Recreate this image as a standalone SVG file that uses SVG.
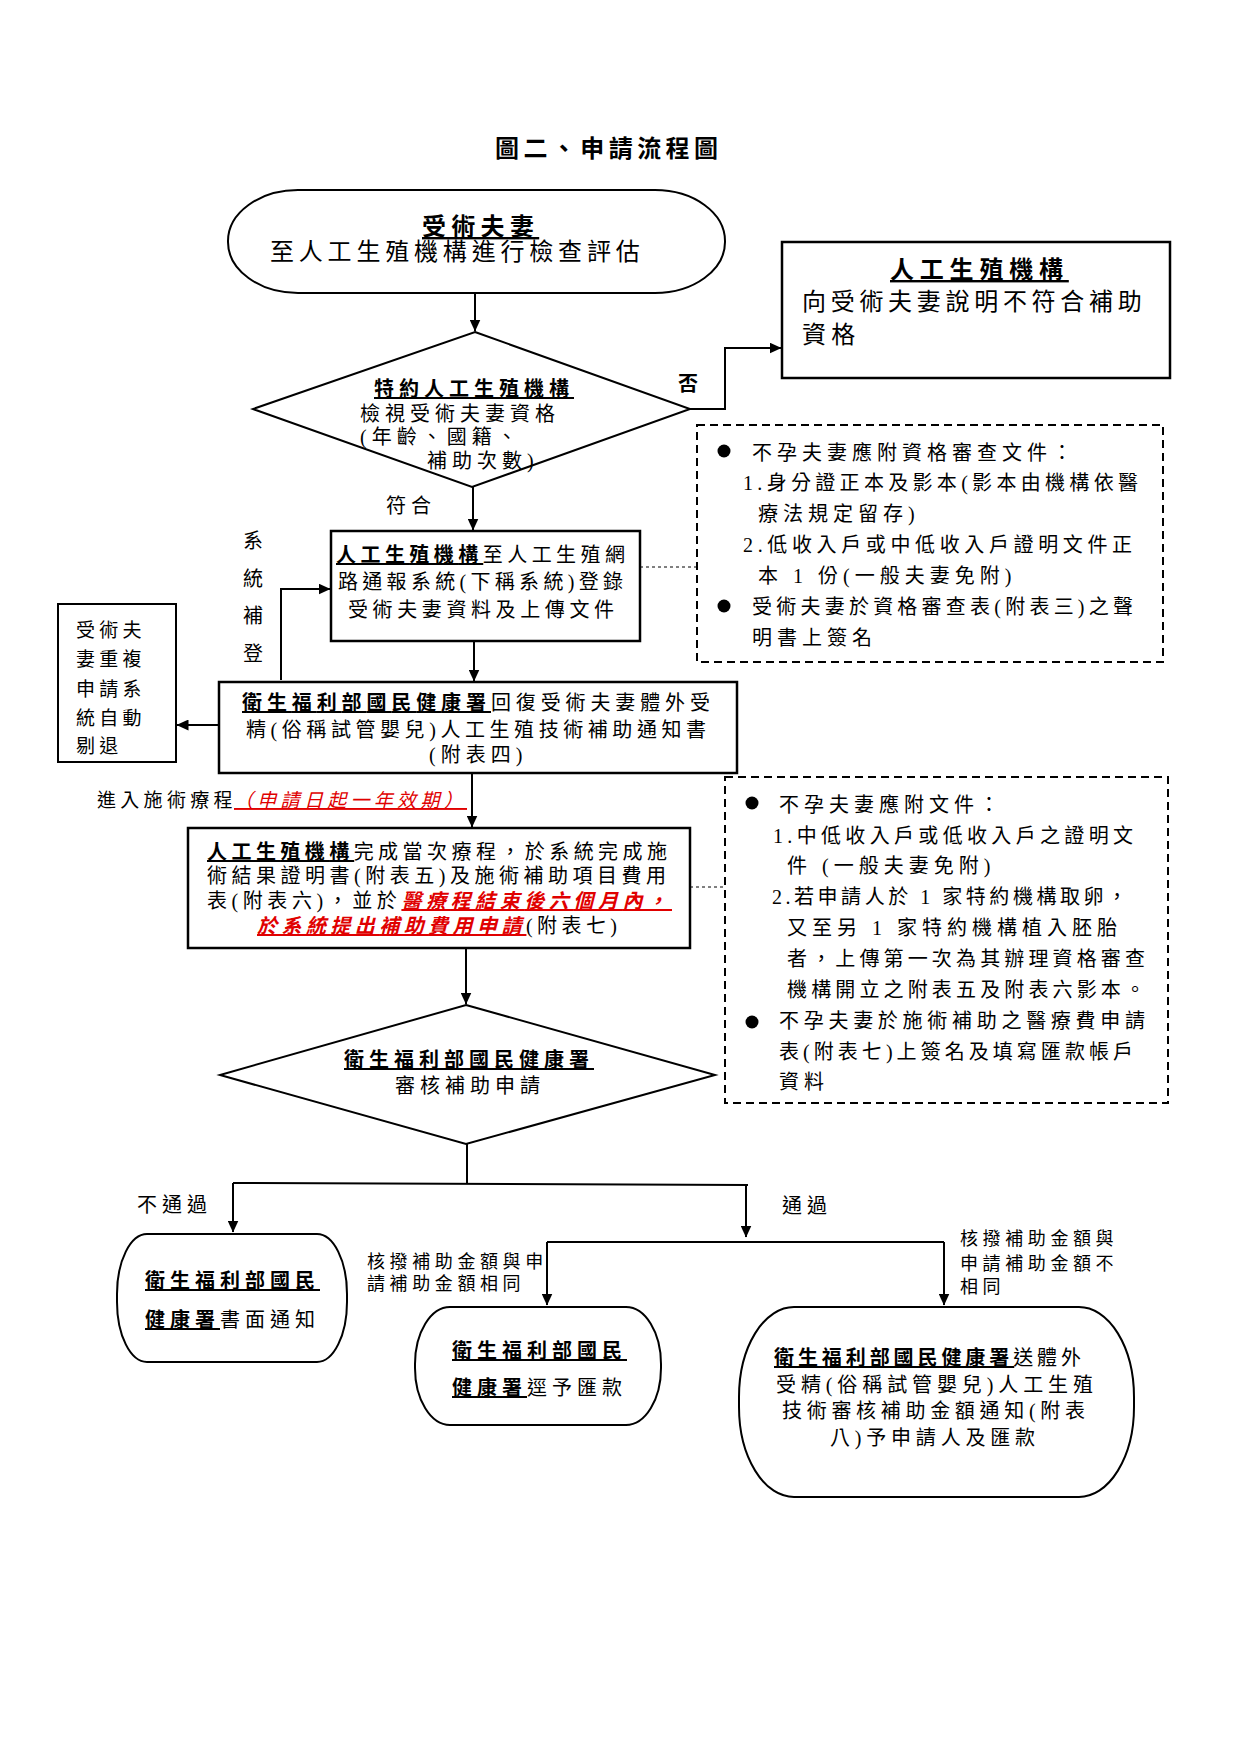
<svg xmlns="http://www.w3.org/2000/svg" width="1241" height="1755" viewBox="0 0 1241 1755">
<defs>
<marker id="ah" viewBox="0 0 12 11" markerWidth="12" markerHeight="11" refX="11.5" refY="5.5" orient="auto" markerUnits="userSpaceOnUse"><path d="M0,0 L12,5.5 L0,11 z" fill="#000"/></marker>
</defs>
<style>
text { font-family: 'Liberation Serif','Noto Sans CJK TC',serif; fill:#000; }
.t20 { font-size:20px; letter-spacing:5px; }
.t24 { font-size:24px; letter-spacing:5.3px; }
.t19 { font-size:19px; letter-spacing:4.3px; }
.t18 { font-size:18px; letter-spacing:4.6px; }
.b { font-weight:700; text-decoration:underline; }
.bold { font-weight:700; }
.red { fill:#e00000; font-style:italic; text-decoration:underline; }
.shape { fill:#fff; stroke:#000; stroke-width:2; }
.box { fill:#fff; stroke:#000; stroke-width:2.5; }
.dash { fill:none; stroke:#000; stroke-width:2; stroke-dasharray:8 5; }
.conn { fill:none; stroke:#000; stroke-width:2; }
.arr { marker-end:url(#ah); }
.dot { fill:none; stroke:#000; stroke-width:1; stroke-dasharray:3 3; }
</style>
<rect width="1241" height="1755" fill="#fff"/>

<text id="title" class="bold" x="495" y="157" font-size="24" letter-spacing="5" textLength="228" lengthAdjust="spacing">圖二、申請流程圖</text>

<g id="connectors">
<path class="conn arr" d="M475,293 L475,331"/>
<path class="conn arr" d="M690,409 L725,409 L725,348 L781,348"/>
<path class="conn arr" d="M473,487 L473,530"/>
<path class="conn arr" d="M474,641 L474,681"/>
<path class="conn arr" d="M281,680 L281,589 L330,589"/>
<path class="conn arr" d="M219,725 L177,725"/>
<path class="conn arr" d="M472,773 L472,827"/>
<path class="conn arr" d="M466,948 L466,1004"/>
<path class="conn" d="M467,1144 L467,1183"/>
<path class="conn" d="M233,1183 L748,1185"/>
<path class="conn arr" d="M233,1183 L233,1232"/>
<path class="conn arr" d="M746,1186 L746,1237"/>
<path class="conn" d="M547,1242 L944,1242"/>
<path class="conn arr" d="M547,1242 L547,1305"/>
<path class="conn arr" d="M944,1242 L944,1305"/>
<path class="dot" d="M640,567 L697,567"/>
<path class="dot" d="M690,887 L725,887"/>
<text class="t20 bold" x="678" y="391">否</text>
<text class="t20" x="386" y="513">符合</text>
<text class="t20" x="243" y="548">系</text>
<text class="t20" x="243" y="586">統</text>
<text class="t20" x="243" y="623">補</text>
<text class="t20" x="243" y="661">登</text>
<text class="t19" x="97" y="807">進入施術療程<tspan class="red" x="234">（申請日起一年效期）</tspan></text>
<text class="t20" x="137" y="1212">不通過</text>
<text class="t20" x="782" y="1213">通過</text>
<text class="t18" x="367" y="1268">核撥補助金額與申</text>
<text class="t18" x="367" y="1290">請補助金額相同</text>
<text class="t18" x="960" y="1245">核撥補助金額與</text>
<text class="t18" x="960" y="1270">申請補助金額不</text>
<text class="t18" x="960" y="1293">相同</text>
</g>

<g id="start">
<rect class="shape" x="228" y="190" width="497" height="103" rx="70" ry="51"/>
<text class="t24 b" x="422" y="235">受術夫妻</text>
<text class="t24" x="270" y="260" textLength="375" lengthAdjust="spacing">至人工生殖機構進行檢查評估</text>
</g>

<g id="check">
<polygon class="shape" points="475,332 690,409 472,487 253,409"/>
<text class="t20 b" x="374" y="396">特約人工生殖機構</text>
<text class="t20" x="360" y="421">檢視受術夫妻資格</text>
<text class="t20" x="360" y="444" letter-spacing="6">(年齡、國籍、</text>
<text class="t20" x="427" y="468">補助次數)</text>
</g>

<g id="reject">
<rect class="box" x="782" y="242" width="388" height="136"/>
<text class="b" x="890" y="278" font-size="24" letter-spacing="5.8">人工生殖機構</text>
<text class="t24" x="802" y="310" textLength="345" lengthAdjust="spacing">向受術夫妻說明不符合補助</text>
<text class="t24" x="802" y="343">資格</text>
</g>

<g id="docs1">
<rect class="dash" x="697" y="425" width="466" height="237"/>
<circle cx="724" cy="451" r="6.5"/>
<circle cx="724" cy="606" r="6.5"/>
<text class="t20" x="752" y="460">不孕夫妻應附資格審查文件：</text>
<text class="t20" x="743" y="490" textLength="400" lengthAdjust="spacing">1.身分證正本及影本(影本由機構依醫</text>
<text class="t20" x="758" y="521">療法規定留存)</text>
<text class="t20" x="743" y="552" textLength="394" lengthAdjust="spacing">2.低收入戶或中低收入戶證明文件正</text>
<text class="t20" x="758" y="583">本 1 份(一般夫妻免附)</text>
<text class="t20" x="752" y="614" textLength="386" lengthAdjust="spacing">受術夫妻於資格審查表(附表三)之聲</text>
<text class="t20" x="752" y="645">明書上簽名</text>
</g>

<g id="register">
<rect class="box" x="331" y="531" width="309" height="110"/>
<text class="t20" x="336" y="562" textLength="294" lengthAdjust="spacing"><tspan class="b">人工生殖機構</tspan>至人工生殖網</text>
<text class="t20" x="338" y="589" textLength="290" lengthAdjust="spacing">路通報系統(下稱系統)登錄</text>
<text class="t20" x="348" y="617" textLength="271" lengthAdjust="spacing">受術夫妻資料及上傳文件</text>
</g>

<g id="notice">
<rect class="box" x="219" y="682" width="518" height="91"/>
<text class="t20" x="242" y="710" textLength="473" lengthAdjust="spacing"><tspan class="b">衛生福利部國民健康署</tspan>回復受術夫妻體外受</text>
<text class="t20" x="246" y="737" textLength="465" lengthAdjust="spacing">精(俗稱試管嬰兒)人工生殖技術補助通知書</text>
<text class="t20" x="429" y="762">(附表四)</text>
</g>

<g id="duplicate">
<rect class="shape" x="58" y="604" width="118" height="158"/>
<text class="t19" x="76" y="637">受術夫</text>
<text class="t19" x="76" y="666">妻重複</text>
<text class="t19" x="76" y="696">申請系</text>
<text class="t19" x="76" y="725">統自動</text>
<text class="t19" x="76" y="753">剔退</text>
</g>

<g id="treatment">
<rect class="box" x="188" y="828" width="502" height="120"/>
<text class="t20" x="207" y="859" textLength="465" lengthAdjust="spacing"><tspan class="b">人工生殖機構</tspan>完成當次療程，於系統完成施</text>
<text class="t20" x="207" y="883" textLength="464" lengthAdjust="spacing">術結果證明書(附表五)及施術補助項目費用</text>
<text class="t20" x="207" y="908" textLength="465" lengthAdjust="spacing">表(附表六)，並於<tspan class="red bold">醫療程結束後六個月內，</tspan></text>
<text class="t20" x="257" y="933" textLength="365" lengthAdjust="spacing"><tspan class="red bold">於系統提出補助費用申請</tspan>(附表七)</text>
</g>

<g id="docs2">
<rect class="dash" x="725" y="777" width="443" height="326"/>
<circle cx="752" cy="803" r="6.5"/>
<circle cx="752" cy="1022" r="6.5"/>
<text class="t20" x="779" y="812">不孕夫妻應附文件：</text>
<text class="t20" x="773" y="843" textLength="365" lengthAdjust="spacing">1.中低收入戶或低收入戶之證明文</text>
<text class="t20" x="787" y="873">件 (一般夫妻免附)</text>
<text class="t20" x="772" y="904" textLength="360" lengthAdjust="spacing">2.若申請人於 1 家特約機構取卵，</text>
<text class="t20" x="787" y="935">又至另 1 家特約機構植入胚胎</text>
<text class="t20" x="787" y="966" textLength="363" lengthAdjust="spacing">者，上傳第一次為其辦理資格審查</text>
<text class="t20" x="787" y="997" textLength="363" lengthAdjust="spacing">機構開立之附表五及附表六影本。</text>
<text class="t20" x="779" y="1028" textLength="371" lengthAdjust="spacing">不孕夫妻於施術補助之醫療費申請</text>
<text class="t20" x="779" y="1059" textLength="359" lengthAdjust="spacing">表(附表七)上簽名及填寫匯款帳戶</text>
<text class="t20" x="779" y="1089">資料</text>
</g>

<g id="review">
<polygon class="shape" points="466,1005 715,1075 466,1144 220,1075"/>
<text class="t20 b" x="344" y="1067">衛生福利部國民健康署</text>
<text class="t20" x="395" y="1093">審核補助申請</text>
</g>

<g id="fail">
<rect class="shape" x="117" y="1234" width="230" height="128" rx="30" ry="60"/>
<text class="t20" x="145" y="1288"><tspan class="b">衛生福利部國民</tspan></text>
<text class="t20" x="145" y="1327"><tspan class="b">健康署</tspan>書面通知</text>
</g>

<g id="same">
<rect class="shape" x="415" y="1307" width="246" height="118" rx="35" ry="57"/>
<text class="t20" x="452" y="1358"><tspan class="b">衛生福利部國民</tspan></text>
<text class="t20" x="452" y="1395"><tspan class="b">健康署</tspan>逕予匯款</text>
</g>

<g id="different">
<rect class="shape" x="739" y="1307" width="395" height="190" rx="55" ry="90"/>
<text class="t20" x="774" y="1365" textLength="312" lengthAdjust="spacing"><tspan class="b">衛生福利部國民健康署</tspan>送體外</text>
<text class="t20" x="776" y="1392" textLength="322" lengthAdjust="spacing">受精(俗稱試管嬰兒)人工生殖</text>
<text class="t20" x="782" y="1418" textLength="308" lengthAdjust="spacing">技術審核補助金額通知(附表</text>
<text class="t20" x="830" y="1445" textLength="210" lengthAdjust="spacing">八)予申請人及匯款</text>
</g>
</svg>
